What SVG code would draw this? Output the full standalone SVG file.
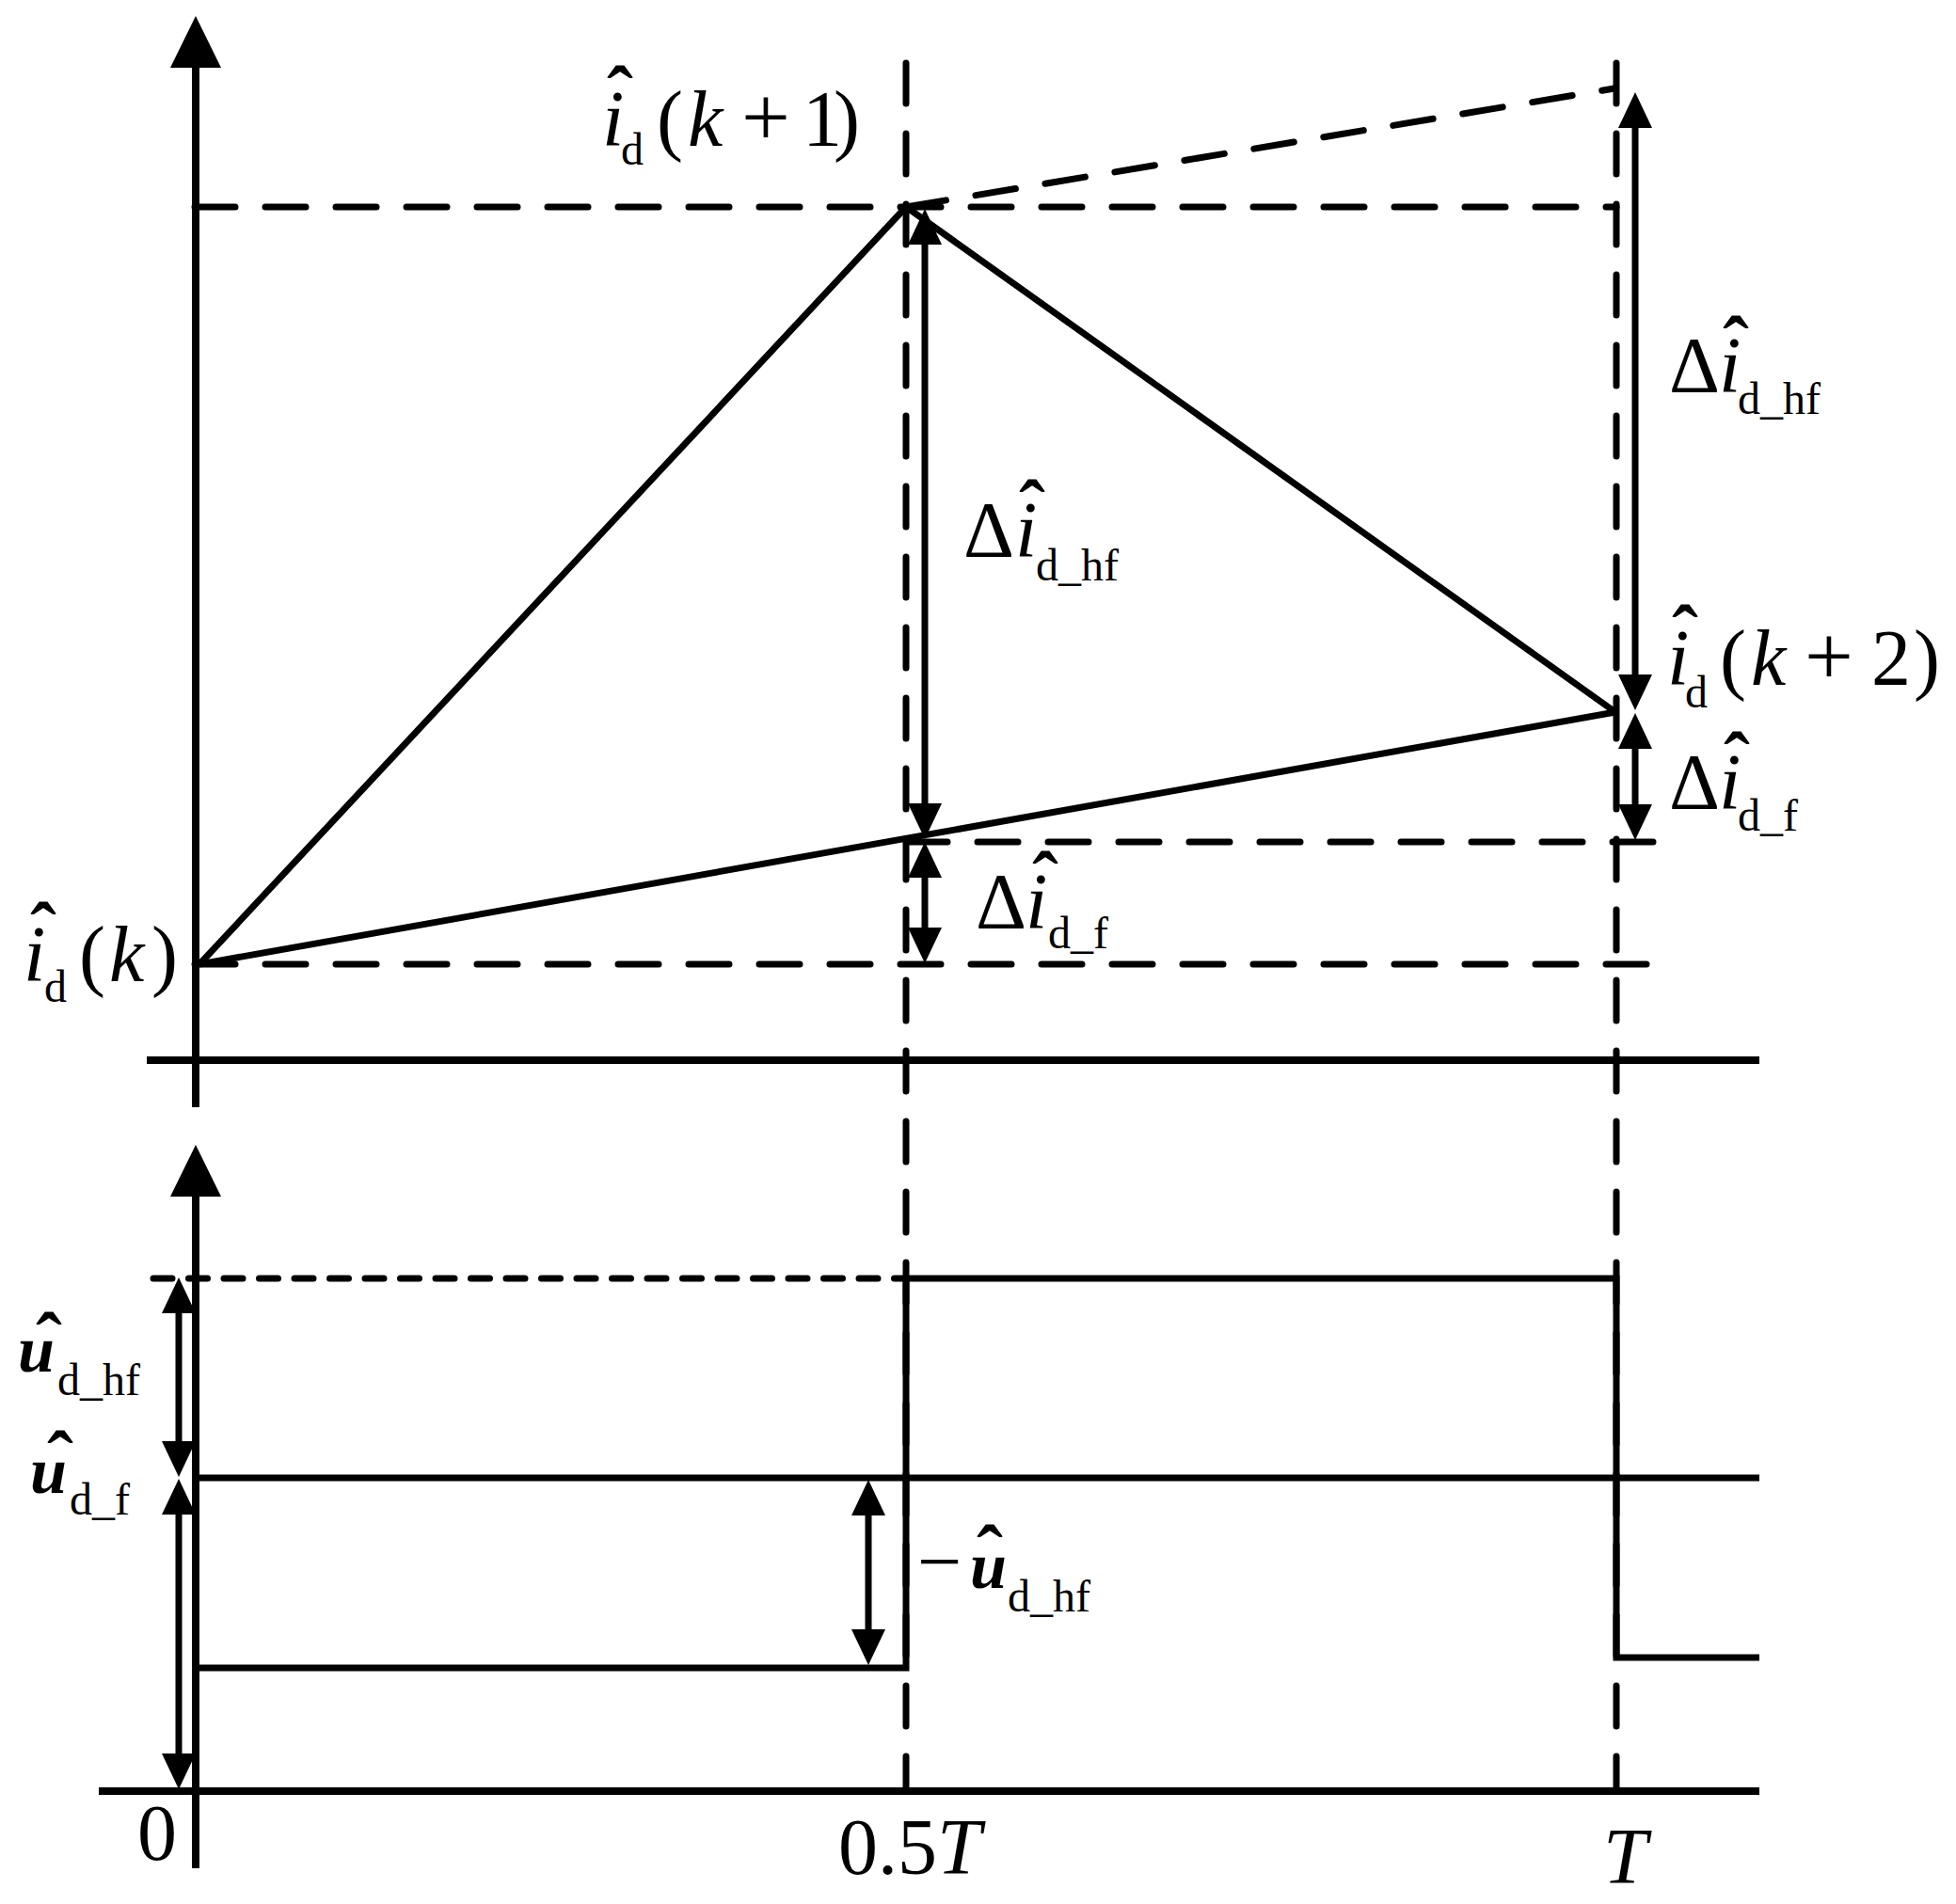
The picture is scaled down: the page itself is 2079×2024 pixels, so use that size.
<svg xmlns="http://www.w3.org/2000/svg" width="2079" height="2024" viewBox="0 0 2079 2024">
<style>
.ln{fill:none;stroke:#000;stroke-width:7}
.ax{fill:none;stroke:#000;stroke-width:8}
.dl{fill:none;stroke:#000;stroke-width:7;stroke-dasharray:43 32;stroke-linecap:round}
.ds{fill:none;stroke:#000;stroke-width:7;stroke-dasharray:20 17.5;stroke-linecap:round}
.dim{fill:none;stroke:#000;stroke-width:7;marker-start:url(#ah);marker-end:url(#ah)}
text{font-family:"Liberation Serif","Times New Roman",serif;font-size:84px;fill:#000}
.it{font-style:italic}
.sub{font-size:48px}
.u{font-style:italic;font-weight:bold;font-size:70px}
.hat{font-weight:bold}
.pl{font-size:92px}
</style>
<defs>
<marker id="ah" markerUnits="userSpaceOnUse" markerWidth="38" markerHeight="40" viewBox="0 -20 38 40" refX="18" refY="0" orient="auto-start-reverse"><path d="M0,-18 L38,0 L0,18 z" fill="#000"/></marker>
<marker id="axh" markerUnits="userSpaceOnUse" markerWidth="55" markerHeight="56" viewBox="0 -28 55 56" refX="25" refY="0" orient="auto"><path d="M0,-27 L55,0 L0,27 z" fill="#000"/></marker>
</defs>
<g id="axes">
<line class="ax" x1="208" y1="1177" x2="208" y2="47" marker-end="url(#axh)"/>
<line class="ax" x1="156" y1="1127" x2="1870" y2="1127"/>
<line class="ax" x1="208" y1="1986" x2="208" y2="1247" marker-end="url(#axh)"/>
<line class="ax" x1="105" y1="1904" x2="1870" y2="1904"/>
</g>
<g id="connectors">
<line class="dl" x1="963" y1="67" x2="963" y2="1904"/>
<line class="dl" x1="1718" y1="67" x2="1718" y2="1904"/>
<line class="dl" x1="207" y1="220" x2="1718" y2="220"/>
<line class="dl" x1="964" y1="895" x2="1765" y2="895"/>
<line class="dl" x1="207" y1="1025" x2="1757" y2="1025"/>
<line class="dl" x1="963" y1="220" x2="1716" y2="94"/>
<line class="ds" x1="163" y1="1359" x2="964" y2="1359"/>
<polyline class="ln" points="212,1025 963,220 1717,757"/>
<line class="ln" x1="212" y1="1025" x2="1717" y2="757"/>
<polyline class="ln" points="212,1773 963,1773 963,1359 1718,1359 1718,1762 1870,1762"/>
<line class="ln" x1="208" y1="1571" x2="1870" y2="1571"/>
<line class="dim" x1="983" y1="242" x2="983" y2="872"/>
<line class="dim" x1="983" y1="915" x2="983" y2="1004"/>
<line class="dim" x1="1738" y1="118" x2="1738" y2="735"/>
<line class="dim" x1="1738" y1="778" x2="1738" y2="873"/>
<line class="dim" x1="190" y1="1378" x2="190" y2="1550"/>
<line class="dim" x1="190" y1="1592" x2="190" y2="1882"/>
<line class="dim" x1="923" y1="1593" x2="923" y2="1750"/>
</g>
<g id="label-idk1">
<text><tspan x="640" y="155" class="it">i</tspan><tspan x="645" y="129" class="hat">ˆ</tspan><tspan x="660" y="175" class="sub">d</tspan><tspan x="698" y="155">(</tspan><tspan x="731" y="155" class="it">k</tspan><tspan x="788" y="155" class="pl">+</tspan><tspan x="853" y="155">1</tspan><tspan x="886" y="155">)</tspan></text>
</g>
<g id="label-idk">
<text><tspan x="25" y="1043" class="it">i</tspan><tspan x="32" y="1018" class="hat">ˆ</tspan><tspan x="47" y="1065" class="sub">d</tspan><tspan x="84" y="1043">(</tspan><tspan x="116" y="1043" class="it">k</tspan><tspan x="161" y="1043">)</tspan></text>
</g>
<g id="label-idk2">
<text><tspan x="1772" y="728" class="it">i</tspan><tspan x="1777" y="702" class="hat">ˆ</tspan><tspan x="1791" y="752" class="sub">d</tspan><tspan x="1828" y="728">(</tspan><tspan x="1861" y="728" class="it">k</tspan><tspan x="1918" y="728" class="pl">+</tspan><tspan x="1989" y="728">2</tspan><tspan x="2034" y="728">)</tspan></text>
</g>
<g id="label-dihf-mid">
<text><tspan x="1024" y="592">Δ</tspan><tspan x="1079" y="592" class="it">i</tspan><tspan x="1083" y="569" class="hat">ˆ</tspan><tspan x="1101" y="617" class="sub">d_hf</tspan></text>
</g>
<g id="label-dif-mid">
<text><tspan x="1037" y="987">Δ</tspan><tspan x="1090" y="987" class="it">i</tspan><tspan x="1097" y="964" class="hat">ˆ</tspan><tspan x="1114" y="1008" class="sub">d_f</tspan></text>
</g>
<g id="label-dif-right">
<text><tspan x="1774" y="860">Δ</tspan><tspan x="1827" y="860" class="it">i</tspan><tspan x="1832" y="837" class="hat">ˆ</tspan><tspan x="1847" y="883" class="sub">d_f</tspan></text>
</g>
<g id="label-dihf-right">
<text><tspan x="1774" y="417">Δ</tspan><tspan x="1827" y="417" class="it">i</tspan><tspan x="1831" y="395" class="hat">ˆ</tspan><tspan x="1847" y="440" class="sub">d_hf</tspan></text>
</g>
<g id="label-udhf">
<text><tspan x="19" y="1458" class="u">u</tspan><tspan x="38" y="1454" class="hat">ˆ</tspan><tspan x="61" y="1483" class="sub">d_hf</tspan></text>
</g>
<g id="label-udf">
<text><tspan x="32" y="1587" class="u">u</tspan><tspan x="50" y="1580" class="hat">ˆ</tspan><tspan x="74" y="1610" class="sub">d_f</tspan></text>
</g>
<g id="label-neg-udhf">
<text><tspan x="975" y="1688">−</tspan><tspan x="1031" y="1688" class="u">u</tspan><tspan x="1038" y="1680" class="hat">ˆ</tspan><tspan x="1071" y="1713" class="sub">d_hf</tspan></text>
</g>
<g id="label-ticks">
<text x="146" y="1977">0</text>
<text x="891" y="1992">0.5<tspan class="it">T</tspan></text>
<text x="1704" y="2002" class="it">T</text>
</g>
</svg>
